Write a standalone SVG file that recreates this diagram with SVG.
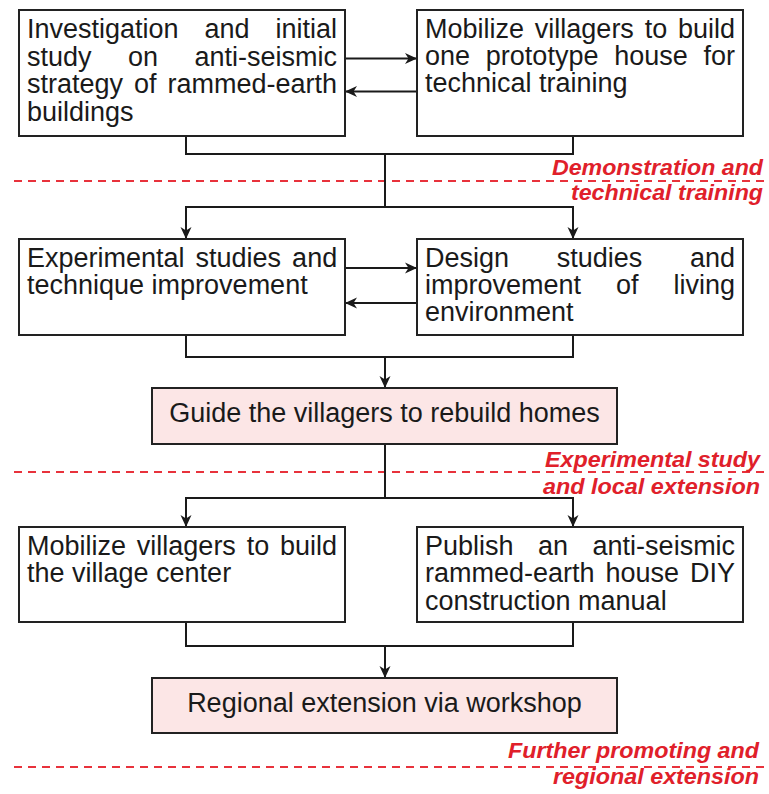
<svg xmlns="http://www.w3.org/2000/svg" width="769" height="794" viewBox="0 0 769 794">
<style>
.box{fill:#fff;stroke:#222;stroke-width:2}
.pink{fill:#fce6e6;stroke:#222;stroke-width:2}
.t{font-family:"Liberation Sans",Arial,sans-serif;font-size:27px;fill:#1a1a1a}
.m{text-anchor:middle}
.lab{font-family:"Liberation Sans",Arial,sans-serif;font-size:22px;font-weight:bold;font-style:italic;fill:#e0202a;text-anchor:end}
.c{fill:none;stroke:#1a1a1a;stroke-width:2}
.a{marker-end:url(#arr)}
.dash{stroke:#e8323c;stroke-width:2;stroke-dasharray:8 6;fill:none}
</style>
<defs>
<marker id="arr" markerUnits="userSpaceOnUse" markerWidth="14" markerHeight="12" refX="12" refY="6" orient="auto">
<path d="M0,0.5 L12,6 L0,11.5 L3.5,6 z" fill="#1a1a1a"/>
</marker>
</defs>
<rect width="769" height="794" fill="#fff"/>

<g id="phase-lines">
<line class="dash" x1="14" y1="181" x2="765" y2="181"/>
<line class="dash" x1="14" y1="472" x2="765" y2="472"/>
<line class="dash" x1="14" y1="767" x2="765" y2="767"/>
</g>

<g id="phase-labels">
<text class="lab" x="763" y="175" textLength="211" lengthAdjust="spacingAndGlyphs">Demonstration and</text>
<text class="lab" x="763" y="200" textLength="192" lengthAdjust="spacingAndGlyphs">technical training</text>
<text class="lab" x="760" y="466.5" textLength="215" lengthAdjust="spacingAndGlyphs">Experimental study</text>
<text class="lab" x="760" y="494" textLength="217" lengthAdjust="spacingAndGlyphs">and local extension</text>
<text class="lab" x="759" y="758" textLength="251" lengthAdjust="spacingAndGlyphs">Further promoting and</text>
<text class="lab" x="759" y="784" textLength="206" lengthAdjust="spacingAndGlyphs">regional extension</text>
</g>

<g id="connectors">
<line class="c a" x1="345" y1="58.5" x2="417" y2="58.5"/>
<line class="c a" x1="417" y1="91.5" x2="345" y2="91.5"/>
<path class="c" d="M186,136 V154 H573 V136"/>
<path class="c" d="M385,154 V207"/>
<path class="c a" d="M385,207 H186 V239"/>
<path class="c a" d="M385,207 H573 V239"/>
<line class="c a" x1="345" y1="268" x2="417" y2="268"/>
<line class="c a" x1="417" y1="303" x2="345" y2="303"/>
<path class="c" d="M186,335 V357 H573 V335"/>
<path class="c a" d="M385,357 V388"/>
<path class="c" d="M385,444 V498"/>
<path class="c a" d="M385,498 H186 V527"/>
<path class="c a" d="M385,498 H573 V527"/>
<path class="c" d="M186,622 V646 H573 V622"/>
<path class="c a" d="M385,646 V678"/>
</g>

<g id="n1">
<rect class="box" x="19" y="10" width="326" height="126"/>
<text class="t" x="27" y="38" word-spacing="18.4">Investigation and initial</text>
<text class="t" x="27" y="65.5" word-spacing="29">study on anti-seismic</text>
<text class="t" x="27" y="93" word-spacing="3.5">strategy of rammed-earth</text>
<text class="t" x="27" y="120.5">buildings</text>
</g>

<g id="n2">
<rect class="box" x="417" y="10" width="326" height="126"/>
<text class="t" x="425" y="37.5" word-spacing="3.3">Mobilize villagers to build</text>
<text class="t" x="425" y="65" word-spacing="8.3">one prototype house for</text>
<text class="t" x="425" y="92">technical training</text>
</g>

<g id="n3">
<rect class="box" x="19" y="239" width="326" height="96"/>
<text class="t" x="27" y="266.5" word-spacing="3.5">Experimental studies and</text>
<text class="t" x="27" y="294">technique improvement</text>
</g>

<g id="n4">
<rect class="box" x="417" y="239" width="326" height="96"/>
<text class="t" x="425" y="266.5" word-spacing="40.2">Design studies and</text>
<text class="t" x="425" y="294" word-spacing="27.5">improvement of living</text>
<text class="t" x="425" y="321">environment</text>
</g>

<g id="n5">
<rect class="pink" x="152" y="388" width="465" height="56"/>
<text class="t m" x="384.5" y="422">Guide the villagers to rebuild homes</text>
</g>

<g id="n6">
<rect class="box" x="19" y="527" width="326" height="95"/>
<text class="t" x="27" y="554.5" word-spacing="3.3">Mobilize villagers to build</text>
<text class="t" x="27" y="582">the village center</text>
</g>

<g id="n7">
<rect class="box" x="417" y="527" width="326" height="95"/>
<text class="t" x="425" y="554.5" word-spacing="17">Publish an anti-seismic</text>
<text class="t" x="425" y="582" word-spacing="3.5">rammed-earth house DIY</text>
<text class="t" x="425" y="609.5">construction manual</text>
</g>

<g id="n8">
<rect class="pink" x="152" y="678" width="465" height="55"/>
<text class="t m" x="384.5" y="711.5">Regional extension via workshop</text>
</g>
</svg>
